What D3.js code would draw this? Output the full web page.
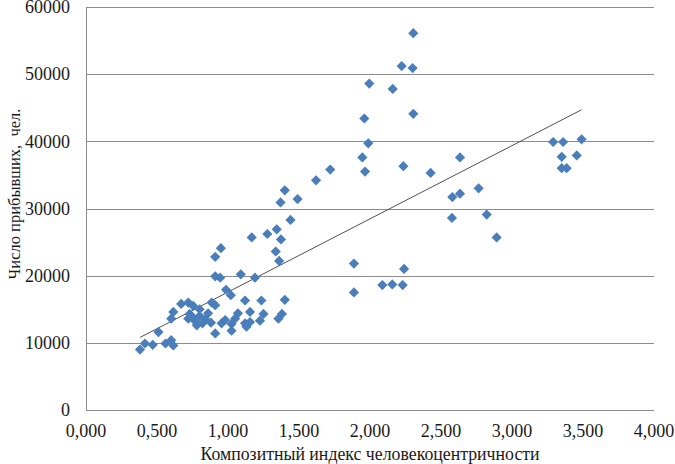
<!DOCTYPE HTML>
<html>
  <head>
    <meta charset="utf-8">
    <script src="https://cdn.jsdelivr.net/npm/d3@7"></script>
  </head>
  <body>
    <script>
      var width = 675,
          height = 464;

      // index values (x) and arrivals (y)
      var indexVals = [0.38, 0.415, 0.47, 0.51, 0.56, 0.60, 0.615, 0.60, 0.615, 0.67,
                       0.72, 0.755, 0.73, 0.75, 0.77, 0.78, 0.80, 0.82, 0.84, 0.86,
                       0.88, 0.72, 0.80, 0.885, 0.91, 0.91, 0.955, 0.98, 1.025, 1.025,
                       1.05, 1.07, 1.12, 1.12, 1.155, 1.13, 1.155, 1.235, 1.225, 1.25,
                       1.355, 1.38, 1.40, 0.986, 1.02, 0.91, 0.945, 1.09, 1.19, 0.91,
                       0.95, 1.167, 1.277, 1.343, 1.373, 1.336, 1.36, 1.44, 1.37, 1.40,
                       1.49, 1.62, 1.72,
                       1.887, 1.887, 2.087, 2.157, 2.23, 2.24, 1.946, 1.965, 1.988, 1.96,
                       1.995, 2.16, 2.223, 2.30, 2.305, 2.305, 2.235, 2.427, 2.634, 2.58,
                       2.634, 2.577, 2.765, 2.822, 2.892, 3.29, 3.36, 3.49, 3.35, 3.456,
                       3.35, 3.385];
      var arrivals = [9000, 9900, 9700, 11600, 9900, 10400, 9600, 13600, 14600, 15800,
                      16000, 15500, 14300, 13800, 13200, 12600, 14000, 12900, 13500, 14400,
                      13000, 13600, 15000, 16000, 15600, 11400, 12900, 13400, 11800, 12800,
                      13600, 14400, 16300, 12900, 13100, 12400, 14600, 16300, 13300, 14300,
                      13600, 14300, 16400, 17900, 17100, 19900, 19700, 20200, 19700, 22800,
                      24100, 25700, 26200, 26900, 25400, 23600, 22200, 28300, 30900, 32700,
                      31400, 34200, 35800,
                      21800, 17500, 18600, 18700, 18600, 21000, 37600, 35500, 39700, 43400,
                      48600, 47800, 51200, 50900, 56100, 44100, 36300, 35300, 37600, 31700,
                      32200, 28600, 33000, 29100, 25700, 39900, 39900, 40300, 37700, 37900,
                      36000, 36000];

      // linear trend line ends
      var trendX = [0.38, 3.49];
      var trendY = [10800, 44700];

      var xTicks = [0, 0.5, 1, 1.5, 2, 2.5, 3, 3.5, 4];
      var yTicks = [0, 10000, 20000, 30000, 40000, 50000, 60000];

      var xTitle = "Композитный индекс человекоцентричности";
      var yTitle = "Число прибывших,  чел.";

      var pLeft = 86, pRight = 654, pTop = 7, pBottom = 410;
      var serif = "Liberation Serif";

      var x = d3.scaleLinear().domain([0, 4]).range([pLeft, pRight]);
      var y = d3.scaleLinear().domain([0, 60000]).range([pBottom, pTop]);

      d3.select("body").style("margin", "0").style("overflow", "hidden");

      var svg = d3.select("body").append("svg")
          .attr("width", width)
          .attr("height", height)
          .style("display", "block")
          .attr("font-family", serif)
          .style("font-family", "'Liberation Serif', serif");

      function label(sel, size) {
        return sel.attr("font-family", serif)
            .style("font-family", "'Liberation Serif', serif")
            .style("white-space", "pre")
            .attr("font-size", size)
            .attr("fill", "#1a1a1a");
      }

      // gridlines
      svg.append("g").selectAll("line")
          .data(yTicks.slice(1))
          .enter().append("line")
          .attr("x1", pLeft).attr("x2", pRight)
          .attr("y1", function(d) { return Math.round(y(d)) + 0.5; })
          .attr("y2", function(d) { return Math.round(y(d)) + 0.5; })
          .attr("stroke", "#8c8c8c")
          .attr("stroke-width", 1);

      // axis lines
      svg.append("line")
          .attr("x1", pLeft + 0.5).attr("x2", pLeft + 0.5)
          .attr("y1", pTop).attr("y2", pBottom)
          .attr("stroke", "#8c8c8c");
      svg.append("line")
          .attr("x1", pLeft).attr("x2", pRight)
          .attr("y1", pBottom + 0.5).attr("y2", pBottom + 0.5)
          .attr("stroke", "#8c8c8c");

      // tick labels
      var fmt = function(d) { return d3.format(".3f")(d).replace(".", ","); };
      svg.append("g").selectAll("text")
          .data(yTicks)
          .enter().append("text")
          .attr("x", 70)
          .attr("y", function(d) { return y(d); })
          .attr("dy", "0.35em")
          .attr("text-anchor", "end")
          .call(label, 18)
          .text(function(d) { return d; });

      svg.append("g").selectAll("text")
          .data(xTicks)
          .enter().append("text")
          .attr("x", function(d) { return x(d); })
          .attr("y", 437)
          .attr("text-anchor", "middle")
          .call(label, 18)
          .text(fmt);

      // axis titles
      svg.append("text")
          .attr("x", 370).attr("y", 460)
          .attr("text-anchor", "middle")
          .call(label, 17.8)
          .text(xTitle);

      svg.append("text")
          .attr("transform", "translate(20,194)rotate(-90)")
          .attr("text-anchor", "middle")
          .call(label, 16.5)
          .text(yTitle);

      // trend line
      svg.append("line")
          .attr("x1", x(trendX[0])).attr("y1", y(trendY[0]))
          .attr("x2", x(trendX[1])).attr("y2", y(trendY[1]))
          .attr("stroke", "#505050")
          .attr("stroke-width", 1);

      // points
      var pts = d3.range(indexVals.length).map(function(i) { return [indexVals[i], arrivals[i]]; });
      svg.append("g").selectAll("path")
          .data(pts)
          .enter().append("path")
          .attr("transform", function(d) { return "translate(" + x(d[0]) + "," + y(d[1]) + ")rotate(45)"; })
          .attr("d", d3.symbol().type(d3.symbolSquare).size(52))
          .attr("fill", "#4a7ebb");
    </script>
  </body>
</html>
